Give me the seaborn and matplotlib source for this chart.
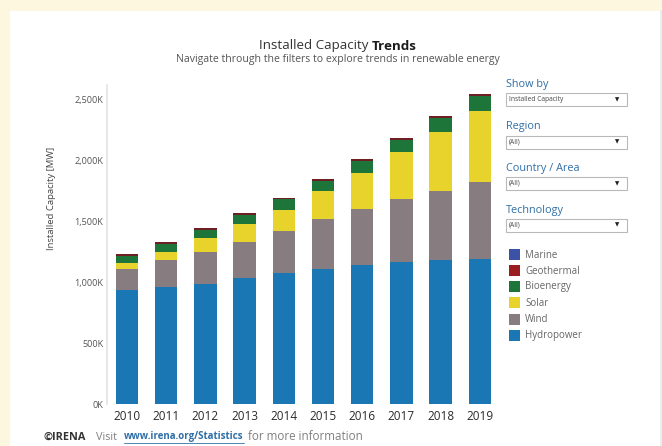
import numpy as np
import pandas as pd
import matplotlib
matplotlib.use("Agg")
import matplotlib.pyplot as plt
from matplotlib.patches import Rectangle
import seaborn as sns

# ---- data (MW, thousands) ----
years = ["2010", "2011", "2012", "2013", "2014", "2015", "2016", "2017", "2018", "2019"]
hydropower = [933, 958, 988, 1032, 1073, 1108, 1139, 1163, 1182, 1190]
wind = [175, 222, 262, 301, 347, 413, 465, 517, 567, 630]
solar = [47, 70, 110, 145, 175, 225, 295, 389, 487, 586]
bioenergy = [64, 67, 71, 77, 87, 89, 97, 99, 115, 123]
geothermal = [10, 10.5, 11, 11, 12, 12, 12.5, 13, 13.5, 14]
marine = [0.5, 0.5, 0.5, 0.5, 0.5, 0.5, 0.5, 0.5, 0.5, 0.5]

technologies = ["Hydropower", "Wind", "Solar", "Bioenergy", "Geothermal", "Marine"]
series = [hydropower, wind, solar, bioenergy, geothermal, marine]
colors = {
    "Hydropower": "#1b77b4",
    "Wind": "#877c80",
    "Solar": "#e8d22c",
    "Bioenergy": "#1e7539",
    "Geothermal": "#6e1f24",
    "Marine": "#3c52a6",
}
legend_colors = dict(colors, Geothermal="#9a1d1f")
yticks = [0, 500, 1000, 1500, 2000, 2500]
ytick_labels = ["0K", "500K", "1,000K", "1,500K", "2,000K", "2,500K"]

W, H = 662, 446
cream = "#fef7df"
fig = plt.figure(figsize=(W / 100, H / 100), dpi=100, facecolor=cream)
renderer = fig.canvas.get_renderer()

# background overlay (pixel coordinates)
bg = fig.add_axes([0, 0, 1, 1], zorder=0)
bg.set_xlim(0, W)
bg.set_ylim(H, 0)
bg.axis("off")
bg.add_patch(Rectangle((10, 11), 651, H - 11, facecolor="white", edgecolor="none"))
bg.plot([661, 661], [11, H], color="#e6ecef", lw=1.2)

sns.set_style("white")
fam = ["Open Sans", "DejaVu Sans"]

ax = fig.add_axes([107.4 / W, (H - 404) / H, 392 / W, (404 - 85) / H], zorder=2)
ax.set_facecolor("none")

cum = np.zeros(len(years))
cums = []
for tech, vals in zip(technologies, series):
    cum = cum + np.array(vals, dtype=float)
    cums.append(cum.copy())
for tech, c in reversed(list(zip(technologies, cums))):
    d = pd.DataFrame({"year": years, "value": c})
    sns.barplot(data=d, x="year", y="value", color=colors[tech], saturation=1,
                width=0.57, errorbar=None, linewidth=0, ax=ax)

ax.set_xlim(-0.5, 9.5)
ax.set_ylim(0, 2620)
ax.set_yticks(yticks)
ax.set_yticklabels(ytick_labels, fontsize=6.6, color="#555555", family=fam)
for lab in ax.get_xticklabels():
    lab.set_fontsize(8.5)
    lab.set_color("#2a2a2a")
    lab.set_family(fam)
ax.tick_params(axis="both", length=0, pad=3)
ax.tick_params(axis="x", pad=4)
ax.set_xlabel("")
ax.set_ylabel("")
for s in ["top", "right", "bottom"]:
    ax.spines[s].set_visible(False)
ax.spines["left"].set_color("#e3e3e3")
ax.spines["left"].set_linewidth(1.2)

# text overlay
ov = fig.add_axes([0, 0, 1, 1], zorder=3)
ov.set_xlim(0, W)
ov.set_ylim(H, 0)
ov.axis("off")


def width_px(t):
    return t.get_window_extent(renderer=renderer).width


def run(x, y, parts, center=False):
    """Place a run of text pieces one after another starting at x (pixels)."""
    objs = []
    for s, kw in parts:
        t = ov.text(0, y, s, ha="left", va="center", **kw)
        objs.append(t)
    widths = [width_px(t) for t in objs]
    total = sum(widths)
    cx = x - total / 2 if center else x
    starts = []
    for t, w in zip(objs, widths):
        t.set_x(cx)
        starts.append((cx, w))
        cx += w
    return starts


ov.text(52, 198, "Installed Capacity [MW]", rotation=90, ha="center", va="center",
        fontsize=6.8, color="#444444", family=fam)

# title
run(338, 46, [("Installed Capacity ", dict(fontsize=9.6, color="#333333", family=fam)),
              ("Trends", dict(fontsize=9.6, color="#1a1a1a", family=fam, fontweight="bold"))],
    center=True)
ov.text(338, 59.5, "Navigate through the filters to explore trends in renewable energy",
        ha="center", va="center", fontsize=7.6, color="#555555", family=fam)

# filters
filters = [("Show by", "Installed Capacity", 85, 99.5),
           ("Region", "(All)", 126.5, 142),
           ("Country / Area", "(All)", 168.5, 183.5),
           ("Technology", "(All)", 210, 225)]
for title, val, ty, by in filters:
    ov.text(506, ty, title, ha="left", va="center", fontsize=7.8, color="#2f6ea6",
            family=fam)
    ov.add_patch(Rectangle((506, by - 6.5), 121, 13, facecolor="white",
                           edgecolor="#b9b9b9", lw=0.8))
    ov.text(509, by, val, ha="left", va="center", fontsize=4.8, color="#444444",
            family=fam)
    ov.text(617, by, "\u25BC", ha="center", va="center", fontsize=4, color="#222222",
            family=["DejaVu Sans"])

# legend
leg_items = ["Marine", "Geothermal", "Bioenergy", "Solar", "Wind", "Hydropower"]
leg_y = [254.5, 270.5, 286.5, 302.7, 319, 335]
for name, yy in zip(leg_items, leg_y):
    ov.add_patch(Rectangle((509, yy - 5.5), 11, 11, facecolor=legend_colors[name],
                           edgecolor="none"))
    ov.text(525, yy + 0.5, name, ha="left", va="center", fontsize=7, color="#666666",
            family=fam)

# footer
ov.text(44, 437, "\u00a9IRENA", ha="left", va="center", fontsize=7.8, color="#333333",
        fontweight="bold", family=fam)
ov.text(96, 437, "Visit", ha="left", va="center", fontsize=7.8, color="#808080",
        family=fam)
lk = ov.text(124, 437, "www.irena.org/Statistics", ha="left", va="center",
             fontsize=7.0, color="#2f6ea6", fontweight="bold", family=fam)
lw_ = width_px(lk)
ov.plot([124, 124 + lw_], [442.5, 442.5], color="#2f6ea6", lw=0.6)
ov.text(124 + lw_ + 4, 437, "for more information", ha="left", va="center",
        fontsize=8.4, color="#808080", family=fam)

fig.savefig("out.png", dpi=100, facecolor=cream)
